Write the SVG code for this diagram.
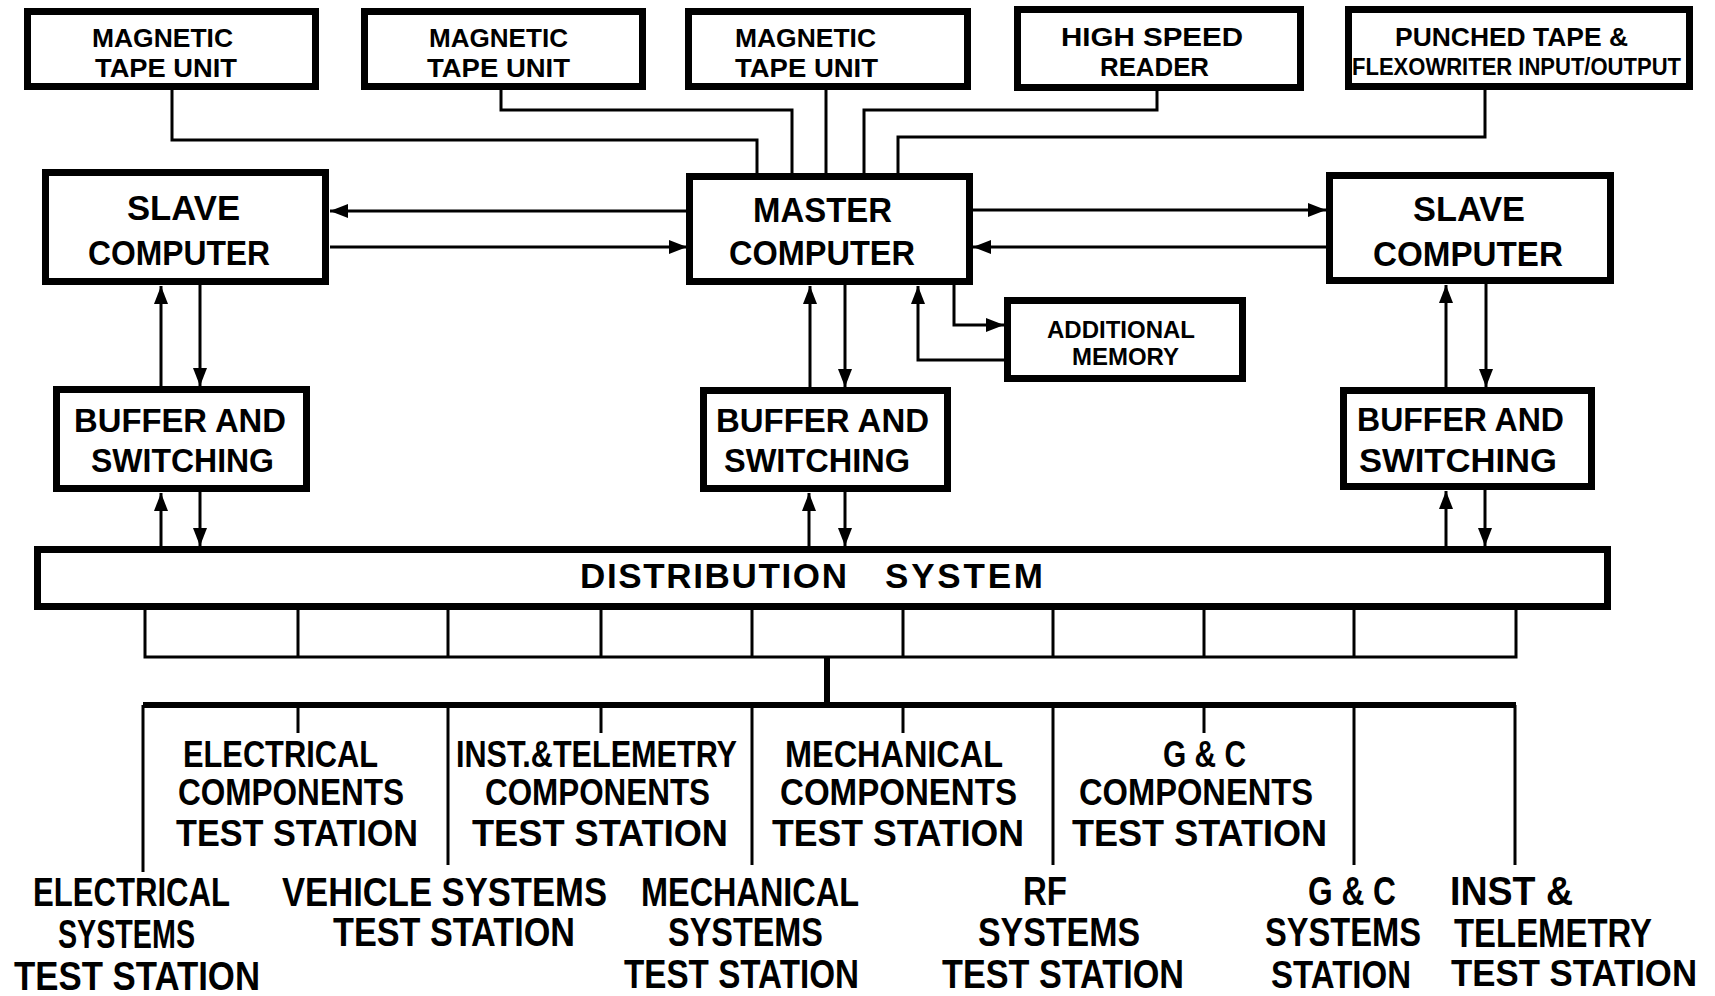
<svg xmlns="http://www.w3.org/2000/svg" width="1715" height="996" viewBox="0 0 1715 996">
  <style>
    .box { fill: #fff; stroke: #000; stroke-width: 7; }
    .ln { fill: none; stroke: #000; stroke-width: 3; }
    .bus { fill: none; stroke: #000; stroke-width: 6; }
    .t { font-family: "Liberation Sans", Arial, sans-serif; font-weight: bold; fill: #000; }
    .mid { text-anchor: middle; }
    .end { text-anchor: end; }
    .s23 { font-size: 23px; }
    .s26 { font-size: 26px; }
    .s33 { font-size: 33px; }
    .s35 { font-size: 35px; }
    .s36 { font-size: 36px; }
    .s37 { font-size: 37px; }
    .s38 { font-size: 38px; }
    .s40 { font-size: 40px; }
  </style>
  <defs>
    <marker id="ah" viewBox="0 0 18 14" refX="18" refY="7" markerWidth="18" markerHeight="14" markerUnits="userSpaceOnUse" orient="auto">
      <path d="M0,0 L18,7 L0,14 z" fill="#000"/>
    </marker>
  </defs>
  <rect width="1715" height="996" fill="#fff"/>

  <!-- connectors -->
  <g id="connectors">
    <!-- peripherals into master computer -->
    <path class="ln" d="M172,90 V140 H757 V174"/>
    <path class="ln" d="M501,90 V110 H792 V174"/>
    <path class="ln" d="M826,90 V174"/>
    <path class="ln" d="M1157,90 V110 H864 V174"/>
    <path class="ln" d="M1485,90 V137 H898 V174"/>
    <!-- master <-> slave computers -->
    <path class="ln" d="M687,211 H330" marker-end="url(#ah)"/>
    <path class="ln" d="M330,247 H687" marker-end="url(#ah)"/>
    <path class="ln" d="M973,210 H1326" marker-end="url(#ah)"/>
    <path class="ln" d="M1326,247 H973" marker-end="url(#ah)"/>
    <!-- master <-> additional memory -->
    <path class="ln" d="M954,285 V325 H1004" marker-end="url(#ah)"/>
    <path class="ln" d="M1004,360 H918 V286" marker-end="url(#ah)"/>
    <!-- computers <-> buffers -->
    <path class="ln" d="M161,386 V286" marker-end="url(#ah)"/>
    <path class="ln" d="M200,285 V386" marker-end="url(#ah)"/>
    <path class="ln" d="M810,387 V286" marker-end="url(#ah)"/>
    <path class="ln" d="M845,285 V387" marker-end="url(#ah)"/>
    <path class="ln" d="M1446,387 V285" marker-end="url(#ah)"/>
    <path class="ln" d="M1486,284 V387" marker-end="url(#ah)"/>
    <!-- buffers <-> distribution system -->
    <path class="ln" d="M161,546 V493" marker-end="url(#ah)"/>
    <path class="ln" d="M200,492 V546" marker-end="url(#ah)"/>
    <path class="ln" d="M809,546 V493" marker-end="url(#ah)"/>
    <path class="ln" d="M845,492 V546" marker-end="url(#ah)"/>
    <path class="ln" d="M1446,546 V491" marker-end="url(#ah)"/>
    <path class="ln" d="M1485,490 V546" marker-end="url(#ah)"/>
    <!-- distribution outlets -->
    <path class="ln" d="M145,609 V657 H1516 V609"/>
    <path class="ln" d="M298,609 V657 M448,609 V657 M601,609 V657 M752,609 V657 M903,609 V657 M1053,609 V657 M1204,609 V657 M1354,609 V657"/>
    <!-- station bus -->
    <path class="bus" d="M827,657 V705"/>
    <path class="bus" d="M143,705 H1516"/>
    <path class="ln" d="M143,705 V872 M298,705 V733 M448,705 V865 M601,705 V733 M752,705 V865 M903,705 V733 M1053,705 V865 M1204,705 V733 M1354,705 V865 M1515,705 V865"/>
  </g>

  <g id="tape1">
    <rect class="box" x="27.5" y="11.5" width="288" height="75"/>
    <text class="t s26" x="92" y="47" textLength="141" lengthAdjust="spacingAndGlyphs">MAGNETIC</text>
    <text class="t s26" x="95" y="77" textLength="142" lengthAdjust="spacingAndGlyphs">TAPE UNIT</text>
  </g>
  <g id="tape2">
    <rect class="box" x="364.5" y="11.5" width="278" height="75"/>
    <text class="t s26" x="429" y="47" textLength="139" lengthAdjust="spacingAndGlyphs">MAGNETIC</text>
    <text class="t s26" x="427" y="77" textLength="143" lengthAdjust="spacingAndGlyphs">TAPE UNIT</text>
  </g>
  <g id="tape3">
    <rect class="box" x="688.5" y="11.5" width="279" height="75"/>
    <text class="t s26" x="735" y="47" textLength="141" lengthAdjust="spacingAndGlyphs">MAGNETIC</text>
    <text class="t s26" x="735" y="77" textLength="143" lengthAdjust="spacingAndGlyphs">TAPE UNIT</text>
  </g>
  <g id="reader">
    <rect class="box" x="1017.5" y="9.5" width="283" height="78"/>
    <text class="t s26" x="1061" y="46" textLength="182" lengthAdjust="spacingAndGlyphs">HIGH  SPEED</text>
    <text class="t s26" x="1100" y="76" textLength="109" lengthAdjust="spacingAndGlyphs">READER</text>
  </g>
  <g id="punched-tape">
    <rect class="box" x="1348.5" y="9.5" width="341" height="77"/>
    <text class="t s26" x="1395" y="46" textLength="233" lengthAdjust="spacingAndGlyphs">PUNCHED TAPE &amp;</text>
    <text class="t s23" x="1352" y="75" textLength="329" lengthAdjust="spacingAndGlyphs">FLEXOWRITER INPUT/OUTPUT</text>
  </g>

  <g id="slave-left">
    <rect class="box" x="45.5" y="172.5" width="280" height="109"/>
    <text class="t s35" x="127" y="220" textLength="113" lengthAdjust="spacingAndGlyphs">SLAVE</text>
    <text class="t s35" x="88" y="265" textLength="182" lengthAdjust="spacingAndGlyphs">COMPUTER</text>
  </g>
  <g id="master">
    <rect class="box" x="689.5" y="176.5" width="280" height="105"/>
    <text class="t s35" x="753" y="222" textLength="139" lengthAdjust="spacingAndGlyphs">MASTER</text>
    <text class="t s35" x="729" y="265" textLength="186" lengthAdjust="spacingAndGlyphs">COMPUTER</text>
  </g>
  <g id="slave-right">
    <rect class="box" x="1329.5" y="175.5" width="281" height="105"/>
    <text class="t s35" x="1413" y="221" textLength="112" lengthAdjust="spacingAndGlyphs">SLAVE</text>
    <text class="t s35" x="1373" y="266" textLength="190" lengthAdjust="spacingAndGlyphs">COMPUTER</text>
  </g>
  <g id="memory">
    <rect class="box" x="1007.5" y="300.5" width="235" height="78"/>
    <text class="t s23" x="1047" y="338" textLength="148" lengthAdjust="spacingAndGlyphs">ADDITIONAL</text>
    <text class="t s23" x="1072" y="365" textLength="107" lengthAdjust="spacingAndGlyphs">MEMORY</text>
  </g>

  <g id="buffer-left">
    <rect class="box" x="56.5" y="389.5" width="250" height="99"/>
    <text class="t s33" x="74" y="432" textLength="212" lengthAdjust="spacingAndGlyphs">BUFFER  AND</text>
    <text class="t s33" x="91" y="472" textLength="183" lengthAdjust="spacingAndGlyphs">SWITCHING</text>
  </g>
  <g id="buffer-center">
    <rect class="box" x="703.5" y="390.5" width="244" height="98"/>
    <text class="t s33" x="716" y="432" textLength="213" lengthAdjust="spacingAndGlyphs">BUFFER  AND</text>
    <text class="t s33" x="724" y="472" textLength="186" lengthAdjust="spacingAndGlyphs">SWITCHING</text>
  </g>
  <g id="buffer-right">
    <rect class="box" x="1343.5" y="390.5" width="248" height="96"/>
    <text class="t s33" x="1357" y="431" textLength="207" lengthAdjust="spacingAndGlyphs">BUFFER  AND</text>
    <text class="t s33" x="1359" y="472" textLength="198" lengthAdjust="spacingAndGlyphs">SWITCHING</text>
  </g>

  <g id="distribution">
    <rect class="box" x="37.5" y="549.5" width="1570" height="57"/>
    <text class="t s35" x="580" y="588" textLength="267" lengthAdjust="spacing">DISTRIBUTION</text>
    <text class="t s35" x="885" y="588" textLength="158" lengthAdjust="spacing">SYSTEM</text>
  </g>

  <g id="electrical-components">
    <text class="t s37" x="183" y="767" textLength="195" lengthAdjust="spacingAndGlyphs">ELECTRICAL</text>
    <text class="t s37" x="178" y="805" textLength="226" lengthAdjust="spacingAndGlyphs">COMPONENTS</text>
    <text class="t s37" x="176" y="846" textLength="242" lengthAdjust="spacingAndGlyphs">TEST  STATION</text>
  </g>
  <g id="telemetry-components">
    <text class="t s36 mid" x="596.5" y="767" textLength="281" lengthAdjust="spacingAndGlyphs">INST.&amp;TELEMETRY</text>
    <text class="t s37" x="485" y="805" textLength="225" lengthAdjust="spacingAndGlyphs">COMPONENTS</text>
    <text class="t s37" x="472" y="846" textLength="256" lengthAdjust="spacingAndGlyphs">TEST  STATION</text>
  </g>
  <g id="mechanical-components">
    <text class="t s37" x="785" y="767" textLength="218" lengthAdjust="spacingAndGlyphs">MECHANICAL</text>
    <text class="t s37" x="780" y="805" textLength="237" lengthAdjust="spacingAndGlyphs">COMPONENTS</text>
    <text class="t s37" x="772" y="846" textLength="252" lengthAdjust="spacingAndGlyphs">TEST  STATION</text>
  </g>
  <g id="gc-components">
    <text class="t s37" x="1163" y="767" textLength="83" lengthAdjust="spacingAndGlyphs">G &amp; C</text>
    <text class="t s37" x="1079" y="805" textLength="234" lengthAdjust="spacingAndGlyphs">COMPONENTS</text>
    <text class="t s37" x="1072" y="846" textLength="255" lengthAdjust="spacingAndGlyphs">TEST  STATION</text>
  </g>

  <g id="electrical-systems">
    <text class="t s40" x="33" y="906" textLength="197" lengthAdjust="spacingAndGlyphs">ELECTRICAL</text>
    <text class="t s40" x="58" y="948" textLength="137" lengthAdjust="spacingAndGlyphs">SYSTEMS</text>
    <text class="t s40" x="14" y="990" textLength="246" lengthAdjust="spacingAndGlyphs">TEST  STATION</text>
  </g>
  <g id="vehicle-systems">
    <text class="t s40" x="282" y="906" textLength="325" lengthAdjust="spacingAndGlyphs">VEHICLE  SYSTEMS</text>
    <text class="t s40" x="333" y="946" textLength="242" lengthAdjust="spacingAndGlyphs">TEST STATION</text>
  </g>
  <g id="mechanical-systems">
    <text class="t s40" x="641" y="906" textLength="218" lengthAdjust="spacingAndGlyphs">MECHANICAL</text>
    <text class="t s40" x="668" y="946" textLength="155" lengthAdjust="spacingAndGlyphs">SYSTEMS</text>
    <text class="t s40" x="624" y="988" textLength="235" lengthAdjust="spacingAndGlyphs">TEST STATION</text>
  </g>
  <g id="rf-systems">
    <text class="t s40" x="1023" y="905" textLength="44" lengthAdjust="spacingAndGlyphs">RF</text>
    <text class="t s40" x="978" y="946" textLength="162" lengthAdjust="spacingAndGlyphs">SYSTEMS</text>
    <text class="t s40" x="942" y="988" textLength="242" lengthAdjust="spacingAndGlyphs">TEST  STATION</text>
  </g>
  <g id="gc-systems">
    <text class="t s40" x="1308" y="905" textLength="88" lengthAdjust="spacingAndGlyphs">G &amp; C</text>
    <text class="t s40" x="1265" y="946" textLength="156" lengthAdjust="spacingAndGlyphs">SYSTEMS</text>
    <text class="t s38 mid" x="1341" y="988" textLength="140" lengthAdjust="spacingAndGlyphs">STATION</text>
  </g>
  <g id="telemetry-systems">
    <text class="t s40" x="1450" y="905" textLength="123" lengthAdjust="spacingAndGlyphs">INST  &amp;</text>
    <text class="t s40" x="1454" y="947" textLength="198" lengthAdjust="spacingAndGlyphs">TELEMETRY</text>
    <text class="t s37 end" x="1697" y="986" textLength="246" lengthAdjust="spacingAndGlyphs">TEST STATION</text>
  </g>
</svg>
